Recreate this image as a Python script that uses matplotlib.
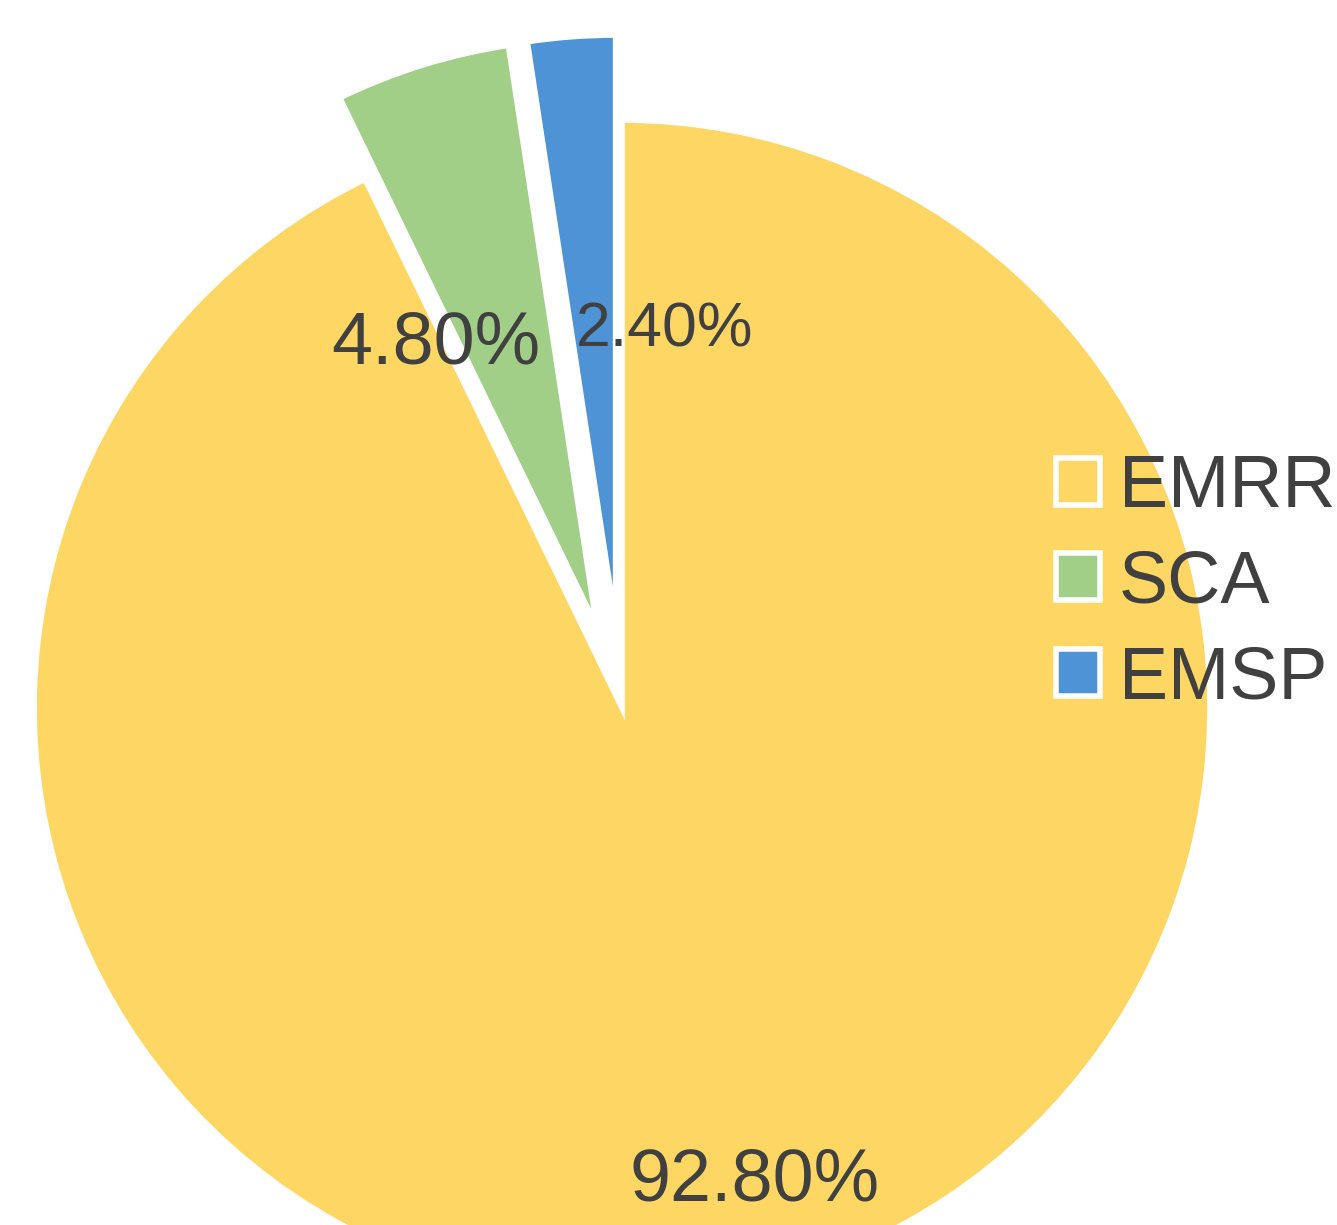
import matplotlib.pyplot as plt

plt.rcParams['font.family'] = ['Liberation Sans', 'DejaVu Sans']

# Данные
categories = ["EMRR", "SCA", "EMSP"]
shares = [92.8, 4.8, 2.4]
pct_labels = ["92.80%", "4.80%", "2.40%"]

colors = ["#FDD663", "#A2CF88", "#4E93D6"]
explode = [0.0, 0.145, 0.145]
# положение и размер подписей (в единицах радиуса)
label_pos = [(0.226, -0.805), (-0.316, 0.620), (0.073, 0.643)]
label_size = [53, 53, 45]

fig = plt.figure(figsize=(13.37, 12.25), dpi=100)
ax = fig.add_axes([0, 0, 1, 1])

wedges, texts = ax.pie(shares, colors=colors, explode=explode, startangle=90,
                       counterclock=False, radius=1.0,
                       wedgeprops=dict(edgecolor="white", linewidth=4))

for lab, pos, fs in zip(pct_labels, label_pos, label_size):
    ax.text(pos[0], pos[1], lab, ha="center", va="center",
            fontsize=fs, color="#404040")

ax.set_xlim(-1.058, 1.216)
ax.set_ylim(-0.879, 1.204)
ax.set_aspect("equal")
ax.axis("off")

leg = fig.legend(wedges, categories, loc="center left",
                 bbox_to_anchor=(0.7625, 0.524), frameon=False,
                 fontsize=53, handlelength=0.6, handleheight=0.6,
                 handletextpad=0.25, labelspacing=0.36, borderpad=0)
for t in leg.get_texts():
    t.set_color("#404040")

fig.savefig("out.png", dpi=100)
